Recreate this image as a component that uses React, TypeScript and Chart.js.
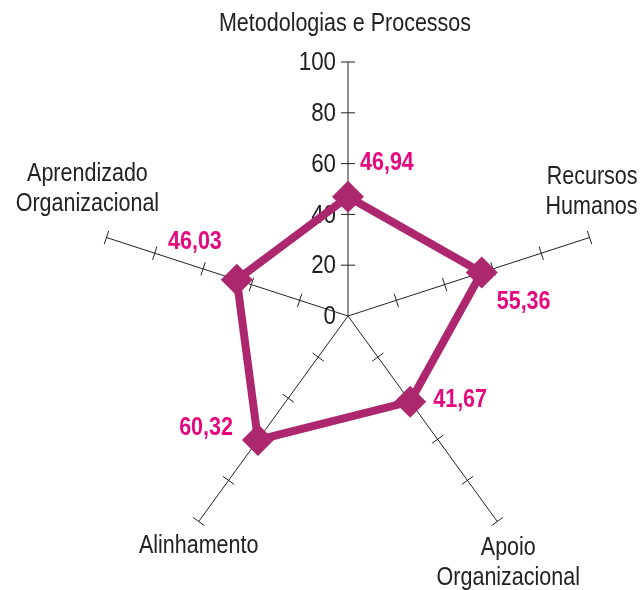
import React, { useEffect, useRef } from "react";
import { Chart, registerables } from "chart.js";

Chart.register(...registerables);

const categories: string[][] = [
  ["Metodologias e Processos"],
  ["Recursos", "Humanos"],
  ["Apoio", "Organizacional"],
  ["Alinhamento"],
  ["Aprendizado", "Organizacional"],
];
const seriesValues: number[] = [46.94, 55.36, 41.67, 60.32, 46.03];
const tickValues: number[] = [0, 20, 40, 60, 80, 100];
const tickLabels: string[] = ["0", "20", "40", "60", "80", "100"];

// layout offsets (pixels) for category labels relative to axis end
const catLabelOffsets: { dx: number; dy: number; align: CanvasTextAlign }[] = [
  { dx: -3, dy: -38, align: "center" },
  { dx: 48, dy: -60, align: "right" },
  { dx: 11, dy: 27, align: "center" },
  { dx: 0, dy: 25, align: "center" },
  { dx: -19, dy: -63, align: "center" },
];
// layout offsets for value labels relative to point
const valLabelOffsets: { dx: number; dy: number; align: CanvasTextAlign }[] = [
  { dx: 12, dy: -34, align: "left" },
  { dx: 15, dy: 30, align: "left" },
  { dx: 23, dy: -2, align: "left" },
  { dx: -25, dy: -12, align: "right" },
  { dx: -15, dy: -38, align: "right" },
];

const FONT = "'Liberation Sans', Arial, sans-serif";
const SX = 0.86; // horizontal condensation to mimic a narrow face
const LINE_COLOR = "#ad276f";
const TEXT_COLOR = "#e5087f";

function drawText(ctx: CanvasRenderingContext2D, text: string, x: number, y: number, align: CanvasTextAlign) {
  ctx.save();
  ctx.translate(x, y);
  ctx.scale(SX, 1);
  ctx.textAlign = align;
  ctx.fillText(text, 0, 0);
  ctx.restore();
}

const overlayPlugin = {
  id: "overlay",
  beforeDatasetsDraw(chart: any) {
    const scale = chart.scales.r;
    const ctx = chart.ctx as CanvasRenderingContext2D;
    ctx.save();
    ctx.strokeStyle = "#222";
    ctx.lineWidth = 1;
    for (let i = 0; i < categories.length; i++) {
      for (const v of tickValues) {
        if (v === 0) continue;
        const p = scale.getPointPositionForValue(i, v);
        const a = p.angle;
        const nx = -Math.sin(a);
        const ny = Math.cos(a);
        ctx.beginPath();
        ctx.moveTo(p.x - nx * 7, p.y - ny * 7);
        ctx.lineTo(p.x + nx * 7, p.y + ny * 7);
        ctx.stroke();
      }
    }
    ctx.fillStyle = "#222";
    ctx.font = `26px ${FONT}`;
    ctx.textBaseline = "middle";
    tickValues.forEach((v, k) => {
      const p = scale.getPointPositionForValue(0, v);
      drawText(ctx, tickLabels[k], p.x - 12, p.y + 1, "right");
    });
    ctx.font = `25px ${FONT}`;
    categories.forEach((lines, i) => {
      const p = scale.getPointPositionForValue(i, 100);
      const o = catLabelOffsets[i];
      lines.forEach((ln, j) => {
        drawText(ctx, ln, p.x + o.dx, p.y + o.dy + j * 30, o.align);
      });
    });
    ctx.restore();
  },
  afterDatasetsDraw(chart: any) {
    const meta = chart.getDatasetMeta(0);
    const ctx = chart.ctx as CanvasRenderingContext2D;
    ctx.save();
    ctx.fillStyle = TEXT_COLOR;
    ctx.font = `bold 25px ${FONT}`;
    ctx.textBaseline = "middle";
    meta.data.forEach((el: any, i: number) => {
      const o = valLabelOffsets[i];
      drawText(ctx, seriesValues[i].toFixed(2).replace(".", ","), el.x + o.dx, el.y + o.dy, o.align);
    });
    ctx.restore();
  },
};

export default function App() {
  const ref = useRef<HTMLCanvasElement | null>(null);
  useEffect(() => {
    if (!ref.current) return;
    const chart = new Chart(ref.current, {
      type: "radar",
      data: {
        labels: categories.map((c) => c.join(" ")),
        datasets: [
          {
            data: seriesValues,
            borderColor: LINE_COLOR,
            backgroundColor: "transparent",
            borderWidth: 8,
            fill: false,
            pointStyle: "rectRot",
            pointRadius: 16,
            pointHoverRadius: 16,
            pointBackgroundColor: LINE_COLOR,
            pointBorderColor: LINE_COLOR,
            pointBorderWidth: 0,
            tension: 0,
          },
        ],
      },
      options: {
        responsive: false,
        animation: false,
        layout: { padding: { left: 94, top: 62, right: 40, bottom: 20 } },
        plugins: { legend: { display: false }, tooltip: { enabled: false } },
        scales: {
          r: {
            min: 0,
            max: 100,
            ticks: { display: false, stepSize: 20 },
            grid: { display: false },
            angleLines: { display: true, color: "#222", lineWidth: 1 },
            pointLabels: { display: false },
          },
        },
      },
      plugins: [overlayPlugin],
    });
    return () => chart.destroy();
  }, []);
  return (
    <div style={{ position: "fixed", left: 0, top: 0, width: 642, height: 590, background: "#fff" }}>
      <canvas ref={ref} width={642} height={590} style={{ display: "block" }} />
    </div>
  );
}
